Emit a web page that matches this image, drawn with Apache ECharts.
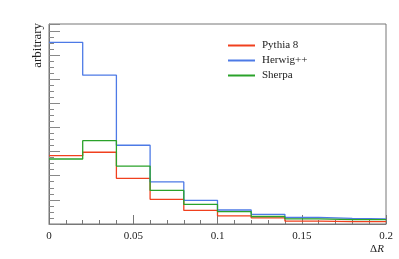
<!DOCTYPE html>
<html><head><meta charset="utf-8">
<script src="https://cdn.jsdelivr.net/npm/echarts@6/dist/echarts.min.js"></script>
<style>html,body{margin:0;padding:0;background:#fff}#c{width:399px;height:259px}</style>
</head><body><div id="c"></div>
<script>
const binEdges = [0, 0.02, 0.04, 0.06, 0.08, 0.10, 0.12, 0.14, 0.16, 0.18, 0.20];
const pythia = [2.83, 2.97, 1.89, 1.02, 0.56, 0.34, 0.25, 0.12, 0.10, 0.10];
const herwig = [7.52, 6.16, 3.26, 1.74, 0.98, 0.58, 0.40, 0.27, 0.23, 0.21];
const sherpa = [2.69, 3.45, 2.40, 1.39, 0.81, 0.51, 0.31, 0.21, 0.18, 0.18];
const names = ['Pythia 8', 'Herwig++', 'Sherpa'];
const colors = ['#f0401e', '#4d7ae6', '#2aa22a'];
const xTicks = ['0', '0.05', '0.1', '0.15', '0.2'];

function hist(vals) {
  const d = vals.map((v, i) => [binEdges[i], v]);
  d.push([binEdges[binEdges.length - 1], vals[vals.length - 1]]);
  return d;
}
const font = '"Liberation Serif", "DejaVu Serif", serif';
const chart = echarts.init(document.getElementById('c'));
chart.setOption({
  animation: false,
  grid: {left: 49, right: 13, top: 24, bottom: 35, show: true, borderColor: '#777', borderWidth: 1},
  legend: {
    left: 223, top: 35, orient: 'vertical', itemWidth: 27, itemHeight: 2, itemGap: 4,
    icon: 'rect',
    textStyle: {fontFamily: font, fontSize: 11, color: '#222', padding: [0, 0, 0, 2]},
    data: names
  },
  xAxis: {
    type: 'value', min: 0, max: 0.2, interval: 0.05,
    axisLine: {show: true, lineStyle: {color: '#777'}},
    axisTick: {inside: true, length: 9, lineStyle: {color: '#777'}},
    minorTick: {show: true, splitNumber: 5, length: 4, lineStyle: {color: '#777'}},
    splitLine: {show: false},
    axisLabel: {fontFamily: font, fontSize: 11, color: '#222', margin: 7,
      formatter: v => { const i = Math.round(v / 0.05); return xTicks[i] !== undefined ? xTicks[i] : ''; }}
  },
  yAxis: {
    type: 'value', min: 0, max: 8.28, interval: 1,
    axisLine: {show: true, lineStyle: {color: '#777'}},
    axisTick: {inside: true, length: 11, lineStyle: {color: '#888'}},
    minorTick: {show: true, splitNumber: 4, length: 5, lineStyle: {color: '#888'}},
    splitLine: {show: false},
    axisLabel: {show: false}
  },
  series: [pythia, herwig, sherpa].map((vals, k) => ({
    name: names[k], type: 'line', step: 'end', data: hist(vals),
    showSymbol: false, symbol: 'none',
    lineStyle: {color: colors[k], width: 1.3}, itemStyle: {color: colors[k]}
  })),
  graphic: [
    {type: 'text', x: 38, y: 23, rotation: Math.PI / 2,
     style: {text: 'arbitrary', font: '13px ' + font, fill: '#222', align: 'right', verticalAlign: 'middle'}},
    {type: 'text', x: 377, y: 249,
     style: {text: '{d|Δ}{r|R}', rich: {d: {fontFamily: font, fontSize: 11, fill: '#222'}, r: {fontFamily: font, fontSize: 11, fontStyle: 'italic', fill: '#222'}}, align: 'center', verticalAlign: 'middle'}}
  ]
});
</script></body></html>
